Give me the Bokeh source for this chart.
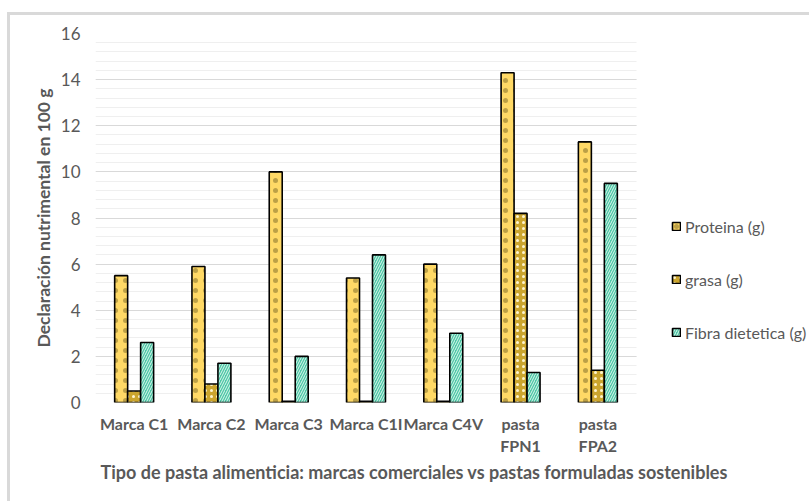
import numpy as np
from bokeh.plotting import figure
from bokeh.models import (ColumnDataSource, Range1d, SingleIntervalTicker, FixedTicker,
                          Legend, LegendItem, Title)
from bokeh.embed import file_html
from bokeh.resources import INLINE

# Nutritional declaration per 100 g of pasta
categories = ["Marca C1", "Marca C2", "Marca C3", "Marca C1I", "Marca C4V",
              "pasta\nFPN1", "pasta\nFPA2"]
proteina = [5.5, 5.9, 10.0, 5.4, 6.0, 14.3, 11.3]
grasa = [0.5, 0.8, 0.05, 0.05, 0.05, 8.2, 1.4]
fibra = [2.6, 1.7, 2.0, 6.4, 3.0, 1.3, 9.5]
series_names = ["Proteina (g)", "grasa (g)", "Fibra dietetica (g)"]
x_title = "Tipo de pasta alimenticia: marcas comerciales vs pastas formuladas sostenibles"
y_title = "Declaración nutrimental en 100 g"

n = len(categories)
centers = np.arange(n) + 0.5
bw = 0.168
source = ColumnDataSource(dict(xc=centers, proteina=proteina, grasa=grasa, fibra=fibra,
                               x1=centers - bw, x2=centers, x3=centers + bw))

FONT = "Lato"
GREY = "#595959"

# frame runs to the right edge so the legend can live inside it;
# the categories occupy the left 541 px of the 717 px frame
x_end = n * 717 / 541

p = figure(x_range=Range1d(0, x_end), y_range=Range1d(0, 16),
           width=802, height=489, output_backend="svg", toolbar_location=None,
           min_border_left=85, min_border_right=0, min_border_top=18, min_border_bottom=102,
           margin=(12, 0, 0, 7))
# light grey chart border (left/top edges visible)
p.styles = {"border-left": "3px solid #D9D9D9", "border-top": "3px solid #D9D9D9"}
p.outline_line_color = None
p.background_fill_color = "white"
p.border_fill_color = "white"

r1 = p.vbar(x="x1", top="proteina", width=bw, source=source,
            fill_color="#FFD966", line_color="black", line_width=1.6,
            hatch_pattern="dot", hatch_color="#6b5a1e", hatch_alpha=0.45,
            hatch_scale=10, hatch_weight=1)
r2 = p.vbar(x="x2", top="grasa", width=bw, source=source,
            fill_color="#CBA52E", line_color="black", line_width=1.6,
            hatch_pattern="dot", hatch_color="#FFF5CF", hatch_scale=6, hatch_weight=3)
r3 = p.vbar(x="x3", top="fibra", width=bw, source=source,
            fill_color="#4EC7A6", line_color="black", line_width=1.6,
            hatch_pattern="right_diagonal_line", hatch_color="#DDF6EE",
            hatch_scale=5, hatch_weight=1)

# y axis
p.yaxis.ticker = SingleIntervalTicker(interval=2, num_minor_ticks=5)
p.yaxis.axis_line_color = None
p.yaxis.major_tick_line_color = None
p.yaxis.minor_tick_line_color = None
p.yaxis.major_label_text_font = FONT
p.yaxis.major_label_text_font_size = "17px"
p.yaxis.major_label_text_color = GREY
p.yaxis.major_label_standoff = 9
p.yaxis.axis_label = y_title
p.yaxis.axis_label_text_font = FONT
p.yaxis.axis_label_text_font_style = "bold"
p.yaxis.axis_label_text_font_size = "17.5px"
p.yaxis.axis_label_text_color = GREY
p.yaxis.axis_label_standoff = 4

# x axis: one label per category centre
p.xaxis.ticker = FixedTicker(ticks=list(centers))
p.xaxis.major_label_overrides = {float(c): lab for c, lab in zip(centers, categories)}
p.xaxis.axis_line_color = None
p.xaxis.major_tick_line_color = None
p.xaxis.minor_tick_line_color = None
p.xaxis.major_label_text_font = FONT
p.xaxis.major_label_text_font_style = "bold"
p.xaxis.major_label_text_font_size = "16px"
p.xaxis.major_label_text_color = GREY
p.xaxis.major_label_standoff = 5

# horizontal grid only across the category area
p.xgrid.grid_line_color = None
p.ygrid.grid_line_color = "#D9D9D9"
p.ygrid.grid_line_width = 1.2
p.ygrid.minor_grid_line_color = "#EFEFEF"
p.ygrid.minor_grid_line_width = 1
p.ygrid.cross_bounds = (0, n)

# x axis title, starting just right of the frame's left edge
p.add_layout(Title(text=x_title, align="left", offset=5, standoff=0,
                   text_font=FONT, text_font_style="bold", text_font_size="18px",
                   text_color=GREY), "below")

legend = Legend(items=[LegendItem(label=series_names[0], renderers=[r1]),
                       LegendItem(label=series_names[1], renderers=[r2]),
                       LegendItem(label=series_names[2], renderers=[r3])],
                location=(576, 60), orientation="vertical",
                border_line_color=None, background_fill_alpha=0,
                label_text_font=FONT, label_text_font_size="16px", label_text_color=GREY,
                glyph_width=10, glyph_height=10, label_standoff=4, spacing=33,
                padding=0, margin=0, label_height=20)
p.add_layout(legend)

open("out.html", "w").write(file_html(p, INLINE))
